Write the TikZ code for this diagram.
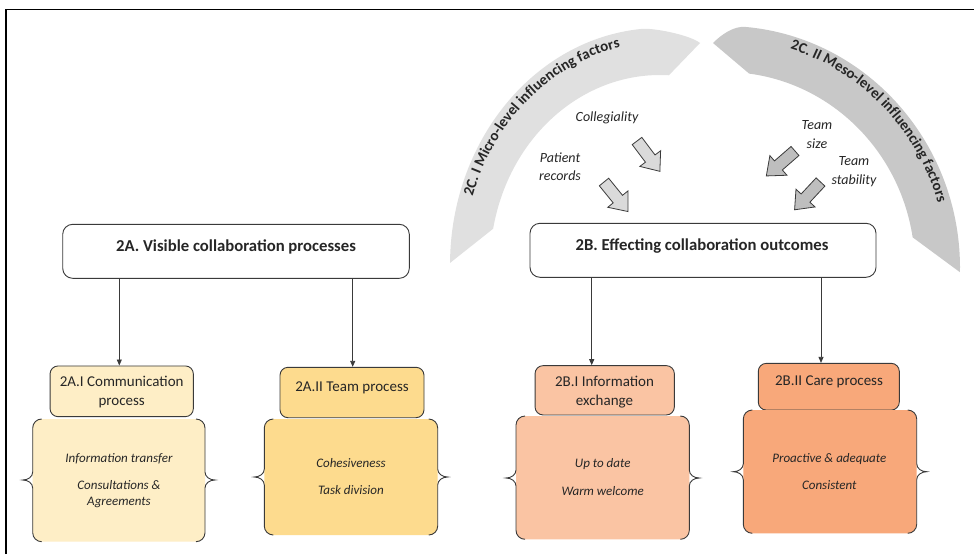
\documentclass[tikz,border=0pt]{standalone}
\usepackage{fontspec}
\setmainfont{Carlito}
\usetikzlibrary{arrows.meta,decorations.text}
\definecolor{cA}{HTML}{FEEEC6}
\definecolor{cB}{HTML}{FDDB8E}
\definecolor{cC}{HTML}{FAC4A3}
\definecolor{cD}{HTML}{F8A87A}
\definecolor{bandL}{HTML}{E0E0E0}
\definecolor{bandR}{HTML}{C8C8C8}
\definecolor{arrL}{HTML}{DADADA}
\definecolor{arrR}{HTML}{BEBEBE}
\definecolor{edge}{HTML}{3A3A3A}
\definecolor{txt}{HTML}{262626}
\newcommand{\bracebox}[7]{%
  \node[bbox, fill=#7, minimum width={#3-#2}, minimum height={#5-#4}] (#1) at ({(#2+#3)/2},{-(#4+#5)/2}) {};
  \draw[brc] ({#2+9},{-#4}) arc[start angle=90,end angle=180,radius=9] -- ({#2},{-#6+8})
    .. controls ({#2},{-#6+3}) and ({#2-5},{-#6}) .. ({#2-10},{-#6})
    .. controls ({#2-5},{-#6}) and ({#2},{-#6-3}) .. ({#2},{-#6-8})
    -- ({#2},{-#5+9}) arc[start angle=180,end angle=270,radius=9];
  \draw[brc] ({#3-9},{-#4}) arc[start angle=90,end angle=0,radius=9] -- ({#3},{-#6+8})
    .. controls ({#3},{-#6+3}) and ({#3+5},{-#6}) .. ({#3+10},{-#6})
    .. controls ({#3+5},{-#6}) and ({#3},{-#6-3}) .. ({#3},{-#6-8})
    -- ({#3},{-#5+9}) arc[start angle=0,end angle=-90,radius=9];
}
\begin{document}
\begin{tikzpicture}[x=1pt,y=1pt,
  mainbox/.style={draw=edge, line width=0.9pt, rounded corners=10pt, fill=white, inner sep=0pt},
  hdr/.style={draw=edge, line width=0.9pt, rounded corners=8pt, inner sep=0pt},
  bbox/.style={rounded corners=9pt, inner sep=0pt},
  brc/.style={draw=edge, line width=0.9pt},
  ttl/.style={font=\bfseries\fontsize{16.7}{20}\selectfont, text=txt},
  htxt/.style={font=\fontsize{15}{19}\selectfont, text=txt, align=center},
  itx/.style={font=\itshape\fontsize{13}{16.6}\selectfont, text=txt, align=center},
  lbl/.style={font=\itshape\fontsize{14}{19}\selectfont, text=txt, align=center},
  conn/.style={draw=edge, line width=0.8pt, -{Triangle[length=6pt,width=5pt]}},
  blk/.style={draw=edge, line width=0.8pt},
  blockarrow/.pic={\path[pic actions] (0,-6)--(22,-6)--(22,-13)--(38,0)--(22,13)--(22,6)--(0,6)--cycle;}
]
\fill[white] (0,0) rectangle (974,-554);
\useasboundingbox (0,0) rectangle (974,-554);
\draw[line width=1.5pt] (6,-554) -- (6,-9.5) -- (974,-9.5);

% influencing factor bands
\begin{scope}[shift={(660,-265)}]
  \fill[bandL] (179.5:210 and 237) arc[start angle=179.5, end angle=95, x radius=210, y radius=237]
    .. controls (-6.3,237.3) and (30,230) .. (40,222)
    -- (87:170 and 190) arc[start angle=87, end angle=169, x radius=170, y radius=190] -- cycle;
  \path[decorate, decoration={text along path, text align=center, text color=txt,
     text={|\bfseries\fontsize{15}{16}\selectfont|2C. I Micro-level influencing factors}}]
     (176:197 and 222) arc[start angle=176, end angle=86, x radius=197, y radius=222];
\end{scope}
\begin{scope}[shift={(725,-268)}]
  \fill[bandR] (-12,225) .. controls (-4,233) and (8.5,242.2) .. (85:235 and 242)
    arc[start angle=85, end angle=-1, x radius=235, y radius=242]
    -- (9:190 and 196) arc[start angle=9, end angle=82.7, x radius=190, y radius=196] -- cycle;
  \path[decorate, decoration={text along path, text align=center, text color=txt,
     text={|\bfseries\fontsize{15}{16}\selectfont|2C. II Meso-level influencing factors}}]
     (90:222 and 229) arc[start angle=90, end angle=0, x radius=222, y radius=229];
\end{scope}

% factor labels and block arrows
\node[lbl] (L1) at (607,-118) {Collegiality};
\node[lbl, font=\itshape\fontsize{14}{18}\selectfont] (L2) at (560,-167) {Patient\\records};
\node[lbl] (L3) at (817,-134.5) {Team\\size};
\node[lbl] (L4) at (854,-172) {Team\\stability};
\pic[blk, fill=arrL, rotate=-53] at (637,-141) {blockarrow};
\pic[blk, fill=arrL, rotate=-51] at (604,-182) {blockarrow};
\pic[blk, fill=arrR, rotate=221] at (795,-151) {blockarrow};
\pic[blk, fill=arrR, rotate=227] at (820.5,-182) {blockarrow};

% main boxes
\node[mainbox, minimum width=346.6, minimum height=54] (A) at (236,-251.3) {};
\node[ttl] (At) at (236,-247) {2A. Visible collaboration processes};
\node[mainbox, minimum width=346, minimum height=54] (B) at (703,-250.3) {};
\node[ttl] (Bt) at (702,-246) {2B. Effecting collaboration outcomes};

% headers
\node[hdr, fill=cA, minimum width=143.3, minimum height=50.7] (A1) at (121.7,-391.3) {};
\node[htxt] (A1t) at (121.7,-392.2) {2A.I Communication\\process};
\node[hdr, fill=cB, minimum width=144, minimum height=50.4] (A2) at (352,-392.5) {};
\node[htxt] (A2t) at (352,-388) {2A.II Team process};
\node[hdr, fill=cC, minimum width=139.3, minimum height=49.3] (B1) at (604.7,-390.3) {};
\node[htxt] (B1t) at (604.5,-391.7) {2B.I Information\\exchange};
\node[hdr, fill=cD, minimum width=141, minimum height=46.7] (B2) at (828.8,-386.7) {};
\node[htxt] (B2t) at (829,-382) {2B.II Care process};

% connectors
\draw[conn] (A.south -| 119.3,0) -- (A1.north -| 119.3,0);
\draw[conn] (A.south -| 352.7,0) -- (A2.north -| 352.7,0);
\draw[conn] (B.south -| 591.7,0) -- (B1.north -| 591.7,0);
\draw[conn] (B.south -| 821,0) -- (B2.north -| 821,0);

% brace boxes
\bracebox{D1}{32.7}{205}{419}{541.7}{480}{cA}
\bracebox{D2}{264.3}{437.7}{419}{535}{477}{cB}
\bracebox{D3}{516}{689.3}{416}{539.3}{478}{cC}
\bracebox{D4}{743.3}{916.7}{410}{533.3}{471.7}{cD}

\node[itx] (D1a) at (119,-458.7) {Information transfer};
\node[itx] (D1b) at (119,-494) {Consultations \&\\Agreements};
\node[itx] (D2a) at (351,-463.3) {Cohesiveness};
\node[itx] (D2b) at (351,-490) {Task division};
\node[itx] (D3a) at (602.7,-464.3) {Up to date};
\node[itx] (D3b) at (602.7,-491) {Warm welcome};
\node[itx] (D4a) at (829.3,-458.7) {Proactive \& adequate};
\node[itx] (D4b) at (829.3,-485.3) {Consistent};
\end{tikzpicture}
\end{document}
